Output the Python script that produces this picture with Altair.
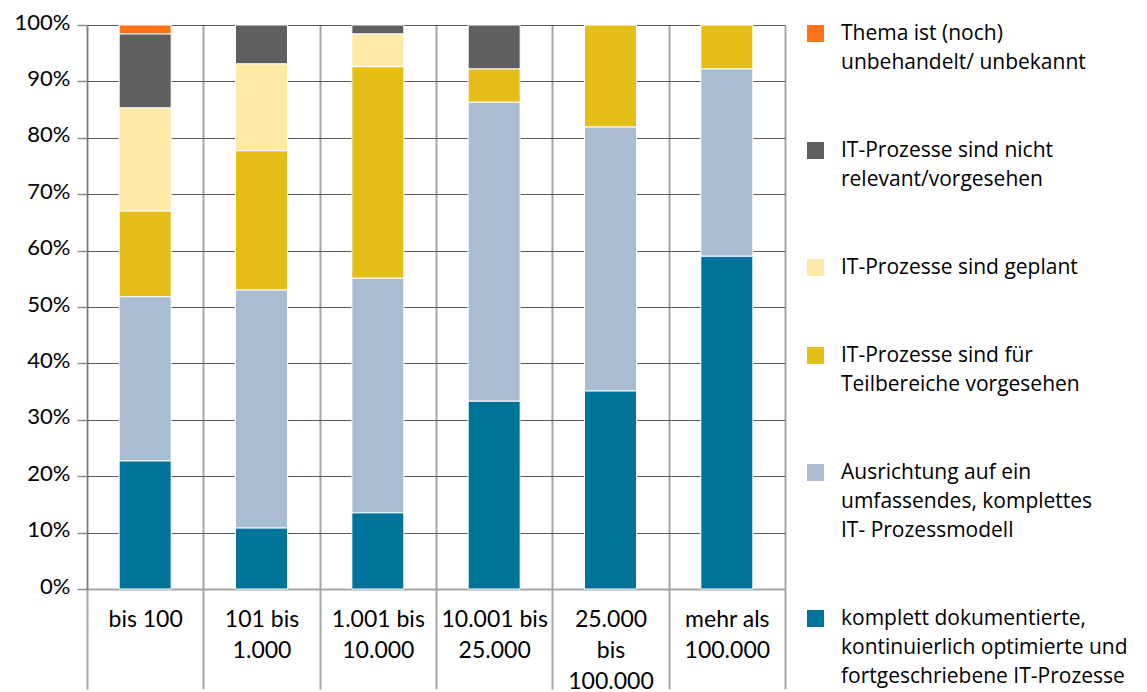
import altair as alt
import pandas as pd

categories = ["bis 100", "101 bis|1.000", "1.001 bis|10.000", "10.001 bis|25.000",
              "25.000|bis|100.000", "mehr als|100.000"]

# legend order (top to bottom)
series = [
    "Thema ist (noch)|unbehandelt/ unbekannt",
    "IT-Prozesse sind nicht|relevant/vorgesehen",
    "IT-Prozesse sind geplant",
    "IT-Prozesse sind für|Teilbereiche vorgesehen",
    "Ausrichtung auf ein|umfassendes, komplettes|IT- Prozessmodell",
    "komplett dokumentierte,|kontinuierlich optimierte und|fortgeschriebene IT-Prozesse",
]
colors = ["#FF7419", "#5F5F5F", "#FFE9A6", "#E6BE19", "#A9BCD1", "#00739A"]

v_unbekannt = [1.6, 0, 0, 0, 0, 0]
v_nicht_relevant = [13.1, 6.9, 1.6, 7.8, 0, 0]
v_geplant = [18.3, 15.4, 5.8, 0, 0, 0]
v_teilbereiche = [15.2, 24.7, 37.5, 5.9, 18.1, 7.8]
v_ausrichtung = [29.1, 42.2, 41.6, 53.0, 46.8, 33.2]
v_komplett = [22.7, 10.8, 13.5, 33.3, 35.1, 59.0]

values = [v_unbekannt, v_nicht_relevant, v_geplant, v_teilbereiche, v_ausrichtung, v_komplett]

rows = []
for si, (name, vals) in enumerate(zip(series, values)):
    for cat, v in zip(categories, vals):
        if v > 0:
            rows.append({"cat": cat, "series": name, "value": v, "stack": len(series) - si})
df = pd.DataFrame(rows)

HGRID = "#5c5c5c"
VGRID = "#a6a6a6"
AXFONT = "Lato"
LEGFONT = "Open Sans"

chart = alt.Chart(df).mark_bar(size=52, stroke="white", strokeWidth=1).encode(
    x=alt.X("cat:N", sort=categories, title=None,
            scale=alt.Scale(paddingInner=0, paddingOuter=0),
            axis=alt.Axis(tickBand="extent", grid=True, gridColor=VGRID, gridWidth=2,
                          tickSize=100, tickColor=VGRID, tickWidth=2,
                          domainColor=VGRID, domainWidth=2, labelAngle=0,
                          labelExpr="split(datum.label, '|')", labelBaseline="top",
                          labelPadding=-81, labelFont=AXFONT, labelFontSize=23,
                          labelLineHeight=31, labelColor="black")),
    y=alt.Y("value:Q", stack="zero", title=None,
            scale=alt.Scale(domain=[0, 100], nice=False),
            axis=alt.Axis(values=list(range(0, 101, 10)), labelExpr="datum.value + '%'",
                          grid=True, gridColor=HGRID, gridWidth=1.2,
                          tickSize=10, tickColor="#8a8a8a", tickWidth=1.5,
                          domainColor="#7a7a7a", domainWidth=1.2, labelPadding=7,
                          labelOffset=-3,
                          labelFont=AXFONT, labelFontSize=22, labelColor="black")),
    color=alt.Color("series:N", sort=series,
                    scale=alt.Scale(domain=series, range=colors),
                    legend=alt.Legend(orient="none", legendX=718, legendY=-2, title=None,
                                      symbolType="square", symbolSize=289, symbolStrokeWidth=0,
                                      labelFont=LEGFONT, labelFontSize=21, labelFontWeight=500,
                                      labelLimit=400, rowPadding=66, labelOffset=15, padding=0,
                                      labelExpr="split(datum.label, '|')", labelColor="black")),
    order=alt.Order("stack:Q"),
).properties(
    width=698, height=564,
    autosize=alt.AutoSizeParams(type="none"),
    padding={"left": 79, "top": 17, "right": 354, "bottom": 103},
).configure(
    style={"guide-label": {"lineHeight": 29}}
).configure_view(strokeWidth=0)

chart.save("out.html", embed_options={"renderer": "svg", "actions": False})
